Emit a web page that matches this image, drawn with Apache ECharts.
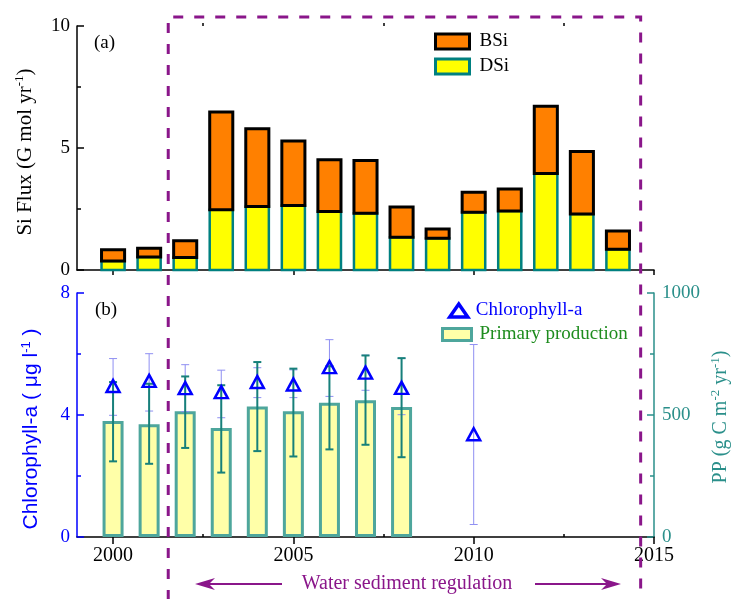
<!DOCTYPE html>
<html><head><meta charset="utf-8">
<script src="https://cdn.jsdelivr.net/npm/echarts@6/dist/echarts.min.js"></script>
<style>html,body{margin:0;padding:0;background:#fff}#c{width:737px;height:599px}</style>
</head><body><div id="c"></div>
<script>
// ---- data ----
const years = [2000,2001,2002,2003,2004,2005,2006,2007,2008,2009,2010,2011,2012,2013,2014];
const dsi = [0.37,0.53,0.51,2.47,2.60,2.64,2.40,2.33,1.34,1.30,2.37,2.42,3.95,2.30,0.85];
const bsi = [0.46,0.36,0.69,4.01,3.19,2.65,2.12,2.16,1.24,0.38,0.82,0.90,2.76,2.56,0.75];

const ppYears = [2000,2001,2002,2003,2004,2005,2006,2007,2008];
const pp     = [475,462,515,447,535,515,550,560,533];
const ppLow  = [310,300,365,264,352,330,359,378,327];
const ppHigh = [635,628,658,622,717,690,700,744,733];

const chlYears = [2000,2001,2002,2003,2004,2005,2006,2007,2008,2010];
const chl     = [4.95,5.12,4.88,4.75,5.08,5.00,5.57,5.39,4.89,3.37];
const chlLow  = [3.99,4.13,4.11,3.91,4.57,4.57,4.61,4.81,4.01,0.41];
const chlHigh = [5.85,6.01,5.65,5.47,5.55,5.48,6.47,5.96,5.86,6.31];

const xMajor = [2000,2005,2010,2015];
const xMinor = [2002.5,2007.5,2012.5];
const regulationStart = 2001.53, regulationEnd = 2014.63;

// ---- style ----
const SERIF = 'Liberation Serif';
const SANS = 'Liberation Sans';
const PURPLE = '#8a168a';
const BLUE = '#0000ff';
const TEAL = '#2a8f8a';
const plain = v => String(v);

const chart = echarts.init(document.getElementById('c'), null, {renderer:'canvas'});

function barRender(fill, stroke, lw) {
  return function (params, api) {
    const x = api.value(0);
    const p0 = api.coord([x, api.value(1)]);
    const p1 = api.coord([x, api.value(2)]);
    const w = api.size([0.64, 0])[0];
    return {type:'rect', shape:{x:p0[0]-w/2, y:p1[1], width:w, height:p0[1]-p1[1]},
      style:{fill:fill, stroke:stroke, lineWidth:lw}};
  };
}
function errRender(color, lw, cap) {
  return function (params, api) {
    const x = api.value(0);
    const lo = api.coord([x, api.value(1)]);
    const hi = api.coord([x, api.value(2)]);
    const st = {stroke:color, lineWidth:lw};
    return {type:'group', children:[
      {type:'line', shape:{x1:lo[0], y1:lo[1], x2:hi[0], y2:hi[1]}, style:st},
      {type:'line', shape:{x1:lo[0]-cap, y1:lo[1], x2:lo[0]+cap, y2:lo[1]}, style:st},
      {type:'line', shape:{x1:hi[0]-cap, y1:hi[1], x2:hi[0]+cap, y2:hi[1]}, style:st}
    ]};
  };
}

const xBase = {type:'value', min:1999, max:2015, splitLine:{show:false}};

const option = {
  animation:false,
  backgroundColor:'#fff',
  grid:[
    {left:77, right:83, top:26, height:244},
    {left:77, right:83, top:293, height:244}
  ],
  xAxis:[
    Object.assign({}, xBase, {gridIndex:0,
      axisLine:{lineStyle:{color:'#000', width:1.5}},
      axisTick:{customValues:xMajor, length:5, lineStyle:{color:'#000', width:1.5}},
      axisLabel:{show:false}}),
    Object.assign({}, xBase, {gridIndex:0,
      axisLine:{show:false},
      axisTick:{customValues:xMinor, length:3, lineStyle:{color:'#000', width:1.5}},
      axisLabel:{show:false}}),
    Object.assign({}, xBase, {gridIndex:1,
      axisLine:{lineStyle:{color:'#000', width:1.5}},
      axisTick:{customValues:xMajor, length:7, lineStyle:{color:'#000', width:1.5}},
      axisLabel:{customValues:xMajor, formatter:plain, fontFamily:SERIF, fontSize:20, color:'#000', margin:9}}),
    Object.assign({}, xBase, {gridIndex:1,
      axisLine:{show:false},
      axisTick:{customValues:xMinor, length:3, lineStyle:{color:'#000', width:1.5}},
      axisLabel:{show:false}})
  ],
  yAxis:[
    {gridIndex:0, type:'value', min:0, max:10, interval:5, splitLine:{show:false},
      axisLine:{show:true, lineStyle:{color:'#000', width:1.5}},
      axisTick:{show:true, inside:true, length:7, lineStyle:{color:'#000', width:1.5}},
      minorTick:{show:true, splitNumber:2, length:4, lineStyle:{color:'#000', width:1.5}},
      axisLabel:{formatter:plain, fontFamily:SERIF, fontSize:19, color:'#000', margin:7}},
    {gridIndex:1, type:'value', position:'left', min:0, max:8, interval:4, splitLine:{show:false},
      axisLine:{show:true, lineStyle:{color:BLUE, width:1.5}},
      axisTick:{show:true, inside:true, length:7, lineStyle:{color:BLUE, width:1.5}},
      minorTick:{show:true, splitNumber:2, length:4, lineStyle:{color:BLUE, width:1.5}},
      axisLabel:{formatter:plain, fontFamily:SERIF, fontSize:19, color:BLUE, margin:7}},
    {gridIndex:1, type:'value', position:'right', min:0, max:1000, interval:500, splitLine:{show:false},
      axisLine:{show:true, lineStyle:{color:TEAL, width:1.5}},
      axisTick:{show:true, inside:true, length:7, lineStyle:{color:TEAL, width:1.5}},
      minorTick:{show:true, splitNumber:2, length:4, lineStyle:{color:TEAL, width:1.5}},
      axisLabel:{formatter:plain, fontFamily:SERIF, fontSize:19, color:TEAL, margin:8}}
  ],
  legend:[
    {orient:'vertical', left:429, top:27, itemWidth:34, itemHeight:15, itemGap:6, selectedMode:false,
      textStyle:{fontFamily:SERIF, fontSize:19, color:'#000', padding:[0,0,0,5]},
      data:[
        {name:'BSi', icon:'rect', itemStyle:{color:'#ff8000', borderColor:'#000', borderWidth:3}},
        {name:'DSi', icon:'rect', itemStyle:{color:'#ffff00', borderColor:'#008080', borderWidth:3}}
      ]},
    {orient:'vertical', left:443, top:296, itemWidth:18, itemHeight:13, selectedMode:false,
      textStyle:{fontFamily:SERIF, fontSize:19, color:BLUE, padding:[0,0,0,3]},
      data:[{name:'Chlorophyll-a', icon:'triangle',
        itemStyle:{color:'rgba(0,0,0,0)', borderColor:BLUE, borderWidth:3.5}}]},
    {orient:'vertical', left:436, top:320, itemWidth:29, itemHeight:12, selectedMode:false,
      textStyle:{fontFamily:SERIF, fontSize:19, color:'#1e8c1e', padding:[0,0,0,3]},
      data:[{name:'Primary production', icon:'rect',
        itemStyle:{color:'#ffffa8', borderColor:'#4ea69c', borderWidth:3}}]}
  ],
  series:[
    {name:'DSi', type:'custom', xAxisIndex:0, yAxisIndex:0, z:2,
      renderItem:barRender('#ffff00', '#008080', 2.5),
      encode:{x:0, y:[1,2]},
      data:years.map((y,i)=>[y, 0, dsi[i]])},
    {name:'BSi', type:'custom', xAxisIndex:0, yAxisIndex:0, z:3,
      renderItem:barRender('#ff8000', '#000', 3),
      encode:{x:0, y:[1,2]},
      data:years.map((y,i)=>[y, dsi[i], dsi[i]+bsi[i]])},
    {name:'Primary production', type:'bar', xAxisIndex:2, yAxisIndex:2, z:2,
      barWidth:21,
      itemStyle:{color:'#ffffa8', borderColor:'#4ea69c', borderWidth:3},
      data:ppYears.map((y,i)=>[y, pp[i]])},
    {name:'chlErr', type:'custom', xAxisIndex:2, yAxisIndex:1, z:3,
      renderItem:errRender('#8f8ff2', 1, 4),
      encode:{x:0, y:[1,2]},
      data:chlYears.map((y,i)=>[y, chlLow[i], chlHigh[i]])},
    {name:'ppErr', type:'custom', xAxisIndex:2, yAxisIndex:2, z:4,
      renderItem:errRender('#17807a', 2, 4),
      encode:{x:0, y:[1,2]},
      data:ppYears.map((y,i)=>[y, ppLow[i], ppHigh[i]])},
    {name:'Chlorophyll-a', type:'scatter', xAxisIndex:2, yAxisIndex:1, z:5,
      symbol:'triangle', symbolSize:[13,12],
      itemStyle:{color:'rgba(0,0,0,0)', borderColor:BLUE, borderWidth:2.5, opacity:1},
      data:chlYears.map((y,i)=>[y, chl[i]])}
  ]
};
chart.setOption(option);

const xs = chart.convertToPixel({xAxisIndex:0}, regulationStart);
const xe = chart.convertToPixel({xAxisIndex:0}, regulationEnd);
const sup = {fontSize:13, verticalAlign:'top', padding:[0,0,10,0]};
function arrowHead(tipX, dir, y) {
  return [[tipX, y], [tipX + dir*20, y-6], [tipX + dir*14, y], [tipX + dir*20, y+6]];
}
chart.setOption({graphic:[
  {type:'polyline', z:100, shape:{points:[[xs,600],[xs,17],[xe,17],[xe,600]]},
    style:{stroke:PURPLE, lineWidth:3, lineDash:[10,11], fill:null}},
  {type:'text', left:94, top:34, style:{text:'(a)', font:'19px "Liberation Serif"', fill:'#000'}},
  {type:'text', left:95, top:301, style:{text:'(b)', font:'19px "Liberation Serif"', fill:'#000'}},
  {type:'text', x:25, y:152, rotation:Math.PI/2,
    style:{text:'Si Flux (G mol yr{s|-1})', font:'21px "Liberation Serif"', fill:'#000',
      align:'center', verticalAlign:'middle', rich:{s:Object.assign({fontFamily:SERIF, fill:'#000'}, sup)}}},
  {type:'text', x:31, y:429, rotation:Math.PI/2,
    style:{text:'Chlorophyll-a ( μg l{s|-1} )', font:'21px "Liberation Sans"', fill:BLUE,
      align:'center', verticalAlign:'middle', rich:{s:Object.assign({fontFamily:SANS, fill:BLUE}, sup)}}},
  {type:'text', x:721, y:417, rotation:Math.PI/2,
    style:{text:'PP (g C m{s|-2} yr{s|-1})', font:'20px "Liberation Serif"', fill:TEAL,
      align:'center', verticalAlign:'middle', rich:{s:Object.assign({fontFamily:SERIF, fill:TEAL}, sup)}}},
  {type:'text', x:407, y:584,
    style:{text:'Water sediment regulation', font:'20px "Liberation Serif"', fill:PURPLE,
      align:'center', verticalAlign:'middle'}},
  {type:'line', shape:{x1:282, y1:584, x2:205, y2:584}, style:{stroke:PURPLE, lineWidth:2}},
  {type:'polygon', shape:{points:arrowHead(195, 1, 584)}, style:{fill:PURPLE}},
  {type:'line', shape:{x1:535, y1:584, x2:612, y2:584}, style:{stroke:PURPLE, lineWidth:2}},
  {type:'polygon', shape:{points:arrowHead(621, -1, 584)}, style:{fill:PURPLE}}
]});
</script>
</body></html>
